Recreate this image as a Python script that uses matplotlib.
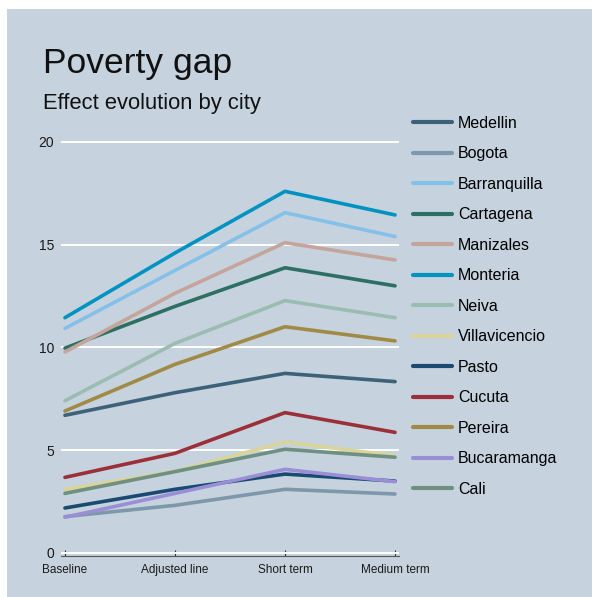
import matplotlib.pyplot as plt
from matplotlib.patches import Rectangle

plt.rcParams['font.family'] = ['Liberation Sans', 'DejaVu Sans']

stages = ['Baseline', 'Adjusted line', 'Short term', 'Medium term']

cities = ['Medellin', 'Bogota', 'Barranquilla', 'Cartagena', 'Manizales', 'Monteria',
          'Neiva', 'Villavicencio', 'Pasto', 'Cucuta', 'Pereira', 'Bucaramanga', 'Cali']

medellin = [6.70, 7.80, 8.74, 8.34]
bogota = [1.77, 2.32, 3.10, 2.87]
barranquilla = [10.93, 13.75, 16.56, 15.40]
cartagena = [9.97, 12.00, 13.88, 13.00]
manizales = [9.78, 12.64, 15.10, 14.26]
monteria = [11.45, 14.60, 17.60, 16.45]
neiva = [7.41, 10.20, 12.28, 11.45]
villavicencio = [3.10, 3.98, 5.40, 4.73]
pasto = [2.19, 3.10, 3.84, 3.50]
cucuta = [3.68, 4.85, 6.83, 5.87]
pereira = [6.91, 9.18, 11.01, 10.32]
bucaramanga = [1.74, 2.90, 4.07, 3.47]
cali = [2.90, 3.96, 5.05, 4.66]

series = [medellin, bogota, barranquilla, cartagena, manizales, monteria,
          neiva, villavicencio, pasto, cucuta, pereira, bucaramanga, cali]

colors = ['#3d6179', '#7f97ab', '#85c0e8', '#2e6f63', '#c4a49b', '#0093c2',
          '#9bbcb0', '#d8d49a', '#1a4a72', '#9b3038', '#a08a45', '#9a8fd6', '#6f9080']

bg = '#c6d3de'

fig = plt.figure(figsize=(5.92, 5.97), dpi=100)
fig.patch.set_facecolor('white')
fig.add_artist(Rectangle((7 / 592, 0), 1, 1 - 9 / 597, transform=fig.transFigure,
                         facecolor=bg, edgecolor='none', zorder=0))

ax = fig.add_axes([61 / 592, 1 - 556 / 597, 338 / 592, 421 / 597])
ax.set_facecolor('none')

x = list(range(len(stages)))
for name, vals, c in zip(cities, series, colors):
    ax.plot(x, vals, color=c, lw=2.6, label=name, solid_capstyle='round', zorder=3)

ax.set_xlim(-0.036, 3.036)
ax.set_ylim(-0.146, 20.34)
ax.set_yticks([0, 5, 10, 15, 20])
ax.set_yticklabels(['0', '5', '10', '15', '20'])
ax.yaxis.grid(True, color='white', lw=1.4, zorder=1)
ax.set_axisbelow(True)
ax.tick_params(axis='y', length=0, pad=5, labelsize=10, labelcolor='#1a1a1a')
ax.set_xticks(x)
ax.set_xticklabels(stages)
ax.tick_params(axis='x', direction='in', length=4, width=0.8, color='#333333',
               pad=6, labelsize=8.5, labelcolor='#1a1a1a')

for side in ['top', 'right', 'left']:
    ax.spines[side].set_visible(False)
ax.spines['bottom'].set_color('#555555')
ax.spines['bottom'].set_linewidth(0.8)

fig.text(43 / 592, 1 - 73 / 597, 'Poverty gap', fontsize=25.5, color='#111111')
fig.text(43 / 592, 1 - 109 / 597, 'Effect evolution by city', fontsize=15.8, color='#111111')

leg = fig.legend(loc='upper left', bbox_to_anchor=(413 / 592, 1 - 116 / 597),
                 frameon=False, fontsize=11.5, handlelength=2.44, handletextpad=0.38,
                 labelspacing=0.97, borderaxespad=0, borderpad=0)
for line in leg.get_lines():
    line.set_linewidth(3)
    line.set_solid_capstyle('round')

fig.savefig('out.png', dpi=100)
